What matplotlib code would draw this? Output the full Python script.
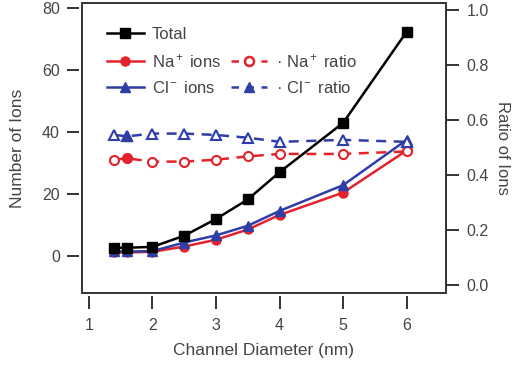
import matplotlib
matplotlib.use("Agg")
import matplotlib.pyplot as plt
from matplotlib.lines import Line2D
from matplotlib.patches import Rectangle

plt.rcParams['font.family'] = ['Liberation Sans', 'DejaVu Sans']
plt.rcParams['mathtext.fontset'] = 'custom'
plt.rcParams['mathtext.rm'] = 'Liberation Sans'
plt.rcParams['mathtext.it'] = 'Liberation Sans'

diameter = [1.4, 1.6, 2.0, 2.5, 3.0, 3.5, 4.0, 5.0, 6.0]
total = [2.6, 2.6, 2.9, 6.5, 11.9, 18.2, 27.0, 42.9, 72.3]
na_ions = [1.1, 1.1, 1.3, 3.0, 5.2, 8.5, 13.2, 20.4, 34.0]
cl_ions = [1.4, 1.4, 1.5, 4.3, 6.6, 9.7, 14.5, 22.8, 37.4]
na_ratio = [0.455, 0.46, 0.448, 0.448, 0.455, 0.467, 0.476, 0.476, 0.485]
cl_ratio = [0.545, 0.54, 0.55, 0.55, 0.545, 0.535, 0.52, 0.527, 0.52]

xticks = [1, 2, 3, 4, 5, 6]
yticks_left = [0, 20, 40, 60, 80]
yticks_right = [0.0, 0.2, 0.4, 0.6, 0.8, 1.0]

RED = '#e3222b'
BLUE = '#2e3ea6'
TXT = '#444444'

fig = plt.figure(figsize=(5.14, 3.67), dpi=100)
ax = fig.add_axes([0.1595, 0.2016, 0.7082, 0.7902])
ax2 = ax.twinx()

ax.set_xlim(0.89, 6.62)
ax.set_ylim(-12, 81.6)
ax2.set_ylim(-0.03, 1.025)

ax.plot(diameter, total, '-s', color='black', lw=1.8, ms=7, label='Total', zorder=5)
ax.plot(diameter, na_ions, '-o', color=RED, lw=1.8, ms=6.5, label='Na$^+$ ions', zorder=4)
ax.plot(diameter, cl_ions, '-^', color=BLUE, lw=1.8, ms=7, label='Cl$^-$ ions', zorder=4)

ax2.plot(diameter, na_ratio, '--o', color=RED, lw=1.8, ms=6.5, mfc='white', mew=1.5,
         dashes=(4, 3))
ax2.plot(diameter, cl_ratio, '--^', color=BLUE, lw=1.8, ms=7, mfc='white', mew=1.5,
         dashes=(4, 3))
# filled markers at second point
ax2.plot(diameter[1:2], na_ratio[1:2], 'o', color=RED, ms=6.5)
ax2.plot(diameter[1:2], cl_ratio[1:2], '^', color=BLUE, ms=7)

# frame
for a in (ax, ax2):
    for s in a.spines.values():
        s.set_color('none')
ax.add_patch(Rectangle((0, 0), 1, 1, transform=ax.transAxes, fill=False,
                       ec='#333333', lw=1.4, clip_on=False, zorder=10))
ax.spines['left'].set_position(('outward', 2))
ax.spines['bottom'].set_position(('outward', 2))

ax.set_xticks(xticks)
ax.set_yticks(yticks_left)
ax2.set_yticks(yticks_right)
ax2.set_yticklabels([f'{v:.1f}' for v in yticks_right])

ax.tick_params(axis='x', direction='out', length=9, width=1.4, color='#333333',
               labelsize=11.5, labelcolor=TXT, pad=7)
ax.tick_params(axis='y', direction='out', length=9, width=1.4, color='#333333',
               labelsize=11.5, labelcolor=TXT, pad=5)
ax2.tick_params(axis='y', direction='out', length=9, width=1.4, color='#333333',
                labelsize=11.5, labelcolor=TXT, pad=6)

ax.set_xlabel('Channel Diameter (nm)', fontsize=12.5, color=TXT, labelpad=7)
ax.set_ylabel('Number of Ions', fontsize=12.5, color=TXT, labelpad=12)
ax2.set_ylabel('Ratio of Ions', fontsize=12, color=TXT, rotation=270, labelpad=15)

handles = [
    Line2D([], [], color='black', marker='s', lw=1.8, ms=7),
    Line2D([], [], color=RED, marker='o', lw=1.8, ms=6.5),
    Line2D([], [], color=BLUE, marker='^', lw=1.8, ms=7),
    Line2D([], [], linestyle='none'),
    Line2D([], [], color=RED, marker='o', lw=1.8, ms=6.5, ls='--', mfc='white', mew=1.8, dashes=(3, 3)),
    Line2D([], [], color=BLUE, marker='^', lw=1.8, ms=7, ls='--', dashes=(3, 3)),
]
labels = ['Total', 'Na$^+$ ions', 'Cl$^-$ ions', '', '· Na$^+$ ratio', '· Cl$^-$ ratio']
leg = ax.legend(handles, labels, ncol=2, loc='upper left', bbox_to_anchor=(0.05, 0.94),
                frameon=False, fontsize=12, handlelength=2.2, handletextpad=0.5,
                columnspacing=0.6, labelspacing=0.6, borderaxespad=0)
for t in leg.get_texts():
    t.set_color(TXT)

fig.savefig('out.png', dpi=100)
